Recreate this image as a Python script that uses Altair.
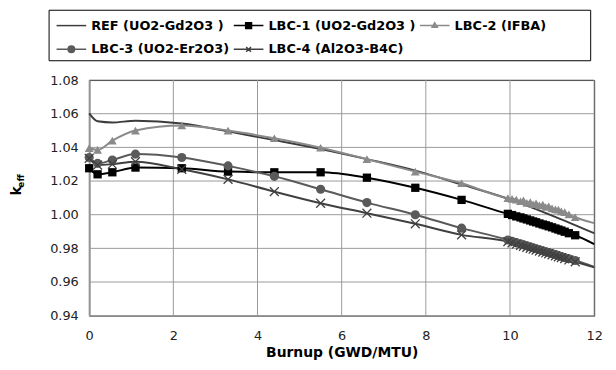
import altair as alt
import pandas as pd

series = ["REF (UO2-Gd2O3 )", "LBC-1 (UO2-Gd2O3 )", "LBC-2 (IFBA)",
          "LBC-3 (UO2-Er2O3)", "LBC-4 (Al2O3-B4C)"]
colors = ["#3c3c3c", "#000000", "#8a8a8a", "#5a5a5a", "#404040"]

# burnup (GWD/MTU) steps
burnup_main = [0, 0.2, 0.55, 1.1, 2.2, 3.3, 4.4, 5.5, 6.6, 7.75, 8.85, 9.95]
burnup_dense = [10.05, 10.15, 10.25, 10.32, 10.4, 10.48, 10.55, 10.62, 10.7, 10.78,
                10.85, 10.92, 11.0, 11.08, 11.15, 11.22, 11.3, 11.4, 11.55]
burnup_end = 12.0

ref_main = [1.0602, 1.0555, 1.0548, 1.0558, 1.0542, 1.0495, 1.0443, 1.0390,
            1.0330, 1.0262, 1.0180, 1.0095]
ref_tail_x = [11.0]
ref_tail = [0.9995]
ref_end = 0.9890

lbc1_main = [1.0276, 1.0240, 1.0252, 1.0280, 1.0276, 1.0256, 1.0252, 1.0252,
             1.0220, 1.0160, 1.0088, 1.0005]
lbc1_dense = [0.9998, 0.9990, 0.9984, 0.9978, 0.9972, 0.9966, 0.9960, 0.9955, 0.9948,
              0.9942, 0.9937, 0.9931, 0.9925, 0.9918, 0.9912, 0.9906, 0.9899, 0.9890, 0.9878]
lbc1_end = 0.9825

lbc2_main = [1.0396, 1.0385, 1.0440, 1.0500, 1.0530, 1.0500, 1.0454, 1.0398,
             1.0330, 1.0256, 1.0187, 1.0098]
lbc2_dense = [1.0094, 1.0090, 1.0080, 1.0085, 1.0070, 1.0075, 1.0062, 1.0068, 1.0055,
              1.0060, 1.0046, 1.0050, 1.0038, 1.0032, 1.0030, 1.0020, 1.0015, 1.0002, 0.9985]
lbc2_end = 0.9950

lbc3_main = [1.0340, 1.0305, 1.0325, 1.0360, 1.0340, 1.0290, 1.0228, 1.0151,
             1.0072, 1.0000, 0.9920, 0.9850]
lbc3_dense = [0.9842, 0.9834, 0.9827, 0.9821, 0.9815, 0.9809, 0.9803, 0.9798, 0.9792,
              0.9786, 0.9780, 0.9775, 0.9769, 0.9763, 0.9757, 0.9752, 0.9745, 0.9738, 0.9728]
lbc3_end = 0.9690

lbc4_main = [1.0335, 1.0295, 1.0300, 1.0315, 1.0270, 1.0210, 1.0137, 1.0068,
             1.0009, 0.9946, 0.9880, 0.9840]
lbc4_dense = [0.9833, 0.9825, 0.9818, 0.9812, 0.9806, 0.9800, 0.9795, 0.9790, 0.9784,
              0.9778, 0.9773, 0.9768, 0.9762, 0.9756, 0.9750, 0.9745, 0.9739, 0.9731, 0.9720]
lbc4_end = 0.9688

x_ticks = [0, 2, 4, 6, 8, 10, 12]
y_ticks = [0.94, 0.96, 0.98, 1.00, 1.02, 1.04, 1.06, 1.08]

rows = []
for x, y in zip(burnup_main + ref_tail_x, ref_main + ref_tail):
    rows.append((series[0], x, y, False))
rows.append((series[0], burnup_end, ref_end, False))
for name, main, dense, end in [(series[1], lbc1_main, lbc1_dense, lbc1_end),
                               (series[2], lbc2_main, lbc2_dense, lbc2_end),
                               (series[3], lbc3_main, lbc3_dense, lbc3_end),
                               (series[4], lbc4_main, lbc4_dense, lbc4_end)]:
    for x, y in zip(burnup_main + burnup_dense, main + dense):
        rows.append((name, x, y, True))
    rows.append((name, burnup_end, end, False))
df = pd.DataFrame(rows, columns=["series", "burnup", "keff", "marker"])

FONT = "DejaVu Sans"

legend_paths = [
    "M-1.36,0H1.36",
    "M-1.36,0H1.36M-0.27,-0.27H0.27V0.27H-0.27Z",
    "M-1.36,0H1.36M0,-0.26L0.24,0.16L-0.24,0.16Z",
    "M-1.36,0H1.36M0.3,0A0.3,0.3 0 1,1 -0.3,0A0.3,0.3 0 1,1 0.3,0Z",
    "M-1.36,0H1.36M-0.22,-0.22L0.22,0.22M-0.22,0.22L0.22,-0.22",
]

axis_style = dict(grid=False, ticks=False, labelFlush=False, labelOverlap=False)


def xe(field):
    return alt.X(field, scale=alt.Scale(domain=[0, 12], nice=False),
                 axis=alt.Axis(values=x_ticks, title="Burnup (GWD/MTU)",
                               labelPadding=14, titlePadding=3, **axis_style))


def ye(field):
    return alt.Y(field, scale=alt.Scale(domain=[0.94, 1.08], nice=False, zero=False),
                 axis=alt.Axis(values=y_ticks, format=".2f", title=None,
                               labelPadding=11, **axis_style))


color_scale = alt.Scale(domain=series, range=colors)
leg = alt.Legend(
    title="\u00a0", titleOrient="right", titlePadding=40, titleFontSize=6,
    orient="none", legendX=-41, legendY=-71,
    columns=3, direction="horizontal", gridAlign="each",
    columnPadding=0, rowPadding=5, padding=4,
    strokeColor="#000", fillColor="#fff",
    symbolSize=484, symbolStrokeWidth=1.5, symbolOpacity=1,
    symbolOffset=7, labelOffset=8,
    labelFont=FONT, labelFontSize=13, labelFontWeight="bold",
    labelColor="#000", labelLimit=300,
)

base = alt.Chart(df)

grid_y = alt.Chart(pd.DataFrame({"gy": y_ticks})).mark_rule(
    color="#9a9a9a", strokeWidth=1, opacity=1).encode(y=ye("gy:Q"))
grid_x = alt.Chart(pd.DataFrame({"gx": x_ticks})).mark_rule(
    color="#9a9a9a", strokeWidth=1, opacity=1).encode(x=xe("gx:Q"))

line_layers = []
for name, col in zip(series, colors):
    line_layers.append(
        base.transform_filter(alt.datum.series == name)
        .mark_line(interpolate="monotone", strokeWidth=2, color=col)
        .encode(x=xe("burnup:Q"), y=ye("keff:Q"))
    )

legend_layer = base.transform_filter(alt.datum.burnup == 0).mark_point(
    filled=False, opacity=0).encode(
    x=xe("burnup:Q"), y=ye("keff:Q"),
    color=alt.Color("series:N", scale=color_scale, legend=leg),
    fill=alt.Fill("series:N", scale=alt.Scale(domain=series, range=colors), legend=leg),
    shape=alt.Shape("series:N", scale=alt.Scale(domain=series, range=legend_paths), legend=leg),
)

pt_specs = [
    (series[1], dict(shape="square", filled=True, size=70, color="#000000")),
    (series[2], dict(shape="triangle-up", filled=True, size=80, color="#8a8a8a")),
    (series[3], dict(shape="circle", filled=True, size=85, color="#5a5a5a")),
    (series[4], dict(shape="M-1,-1L1,1M-1,1L1,-1", filled=False, size=80,
                     color="#404040", strokeWidth=1.3)),
]
point_layers = []
for name, props in pt_specs:
    point_layers.append(
        base.transform_filter((alt.datum.series == name) & (alt.datum.marker == True))
        .mark_point(opacity=1, **props)
        .encode(x=xe("burnup:Q"), y=ye("keff:Q"))
    )

k_text = alt.Chart(pd.DataFrame({"t": ["k"]})).mark_text(
    angle=270, font=FONT, fontSize=14, fontWeight="bold", color="#000",
    align="center", baseline="middle").encode(
    text="t:N", x=alt.value(-73), y=alt.value(112))
eff_text = alt.Chart(pd.DataFrame({"t": ["eff"]})).mark_text(
    angle=270, font=FONT, fontSize=9, fontWeight="bold", color="#000",
    align="center", baseline="middle").encode(
    text="t:N", x=alt.value(-69), y=alt.value(102))

chart = alt.layer(grid_y, grid_x, *line_layers, legend_layer, *point_layers,
                  k_text, eff_text).properties(
    width=510, height=238,
    autosize=alt.AutoSizeParams(type="none"),
    padding={"left": 82, "top": 71, "right": 14, "bottom": 45},
).configure_view(stroke="#000", strokeWidth=1).configure_axis(
    labelFont=FONT, labelFontSize=13, labelColor="#222",
    titleFont=FONT, titleFontSize=14, titleFontWeight="bold", titleColor="#000",
    domainColor="#888", domainWidth=1.5,
)

chart.save("out.html", embed_options={"renderer": "svg", "actions": False})
